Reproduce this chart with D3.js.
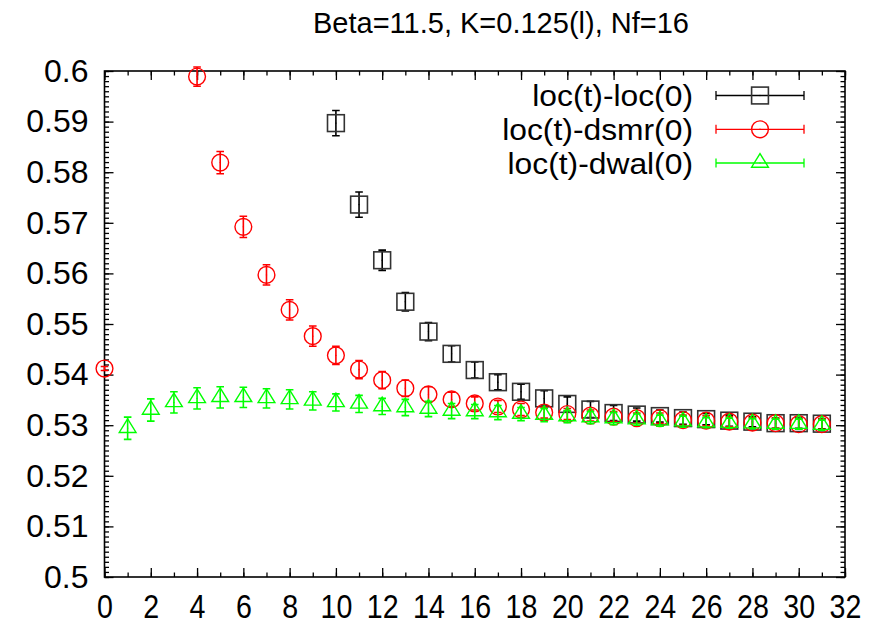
<!DOCTYPE html>
<html>
<head>
<meta charset="utf-8">
<script src="https://cdn.jsdelivr.net/npm/d3@7"></script>
<style>
  body { margin: 0; background: #fff; }
  text { font-family: "Liberation Sans", Arial, Helvetica, sans-serif; }
</style>
</head>
<body>
<script>
"use strict";

// ---- data ----
const title = "Beta=11.5, K=0.125(l), Nf=16";

const xTicks = [0, 2, 4, 6, 8, 10, 12, 14, 16, 18, 20, 22, 24, 26, 28, 30, 32];
const yTicks = [0.5, 0.51, 0.52, 0.53, 0.54, 0.55, 0.56, 0.57, 0.58, 0.59, 0.6];
const yTickLabels = ["0.5", "0.51", "0.52", "0.53", "0.54", "0.55", "0.56", "0.57", "0.58", "0.59", "0.6"];

const seriesNames = ["loc(t)-loc(0)", "loc(t)-dsmr(0)", "loc(t)-dwal(0)"];

const locT = [10, 11, 12, 13, 14, 15, 16, 17, 18, 19, 20, 21, 22, 23, 24, 25, 26, 27, 28, 29, 30, 31];
const locVal = [0.5897, 0.5736, 0.5626, 0.5544, 0.5485, 0.5441, 0.5409, 0.5385, 0.5366, 0.5353, 0.5342,
                0.5331, 0.5324, 0.5321, 0.5318, 0.5314, 0.5312, 0.5309, 0.5307, 0.5304, 0.5304, 0.5303];
const locErr = [0.0025, 0.0025, 0.0020, 0.0018, 0.0018, 0.0016, 0.0016, 0.0015, 0.0015, 0.0015, 0.0014,
                0.0016, 0.0015, 0.0013, 0.0012, 0.0012, 0.0011, 0.0011, 0.0010, 0.0010, 0.0010, 0.0010];

const dsmrT = [0, 4, 5, 6, 7, 8, 9, 10, 11, 12, 13, 14, 15, 16, 17, 18, 19, 20, 21, 22, 23, 24, 25, 26, 27, 28, 29, 30, 31];
const dsmrVal = [0.5412, 0.5989, 0.5819, 0.5692, 0.5597, 0.5528, 0.5476, 0.5438, 0.5410, 0.5389, 0.5373,
                 0.5361, 0.5351, 0.5343, 0.5337, 0.5331, 0.5325, 0.5322, 0.5319, 0.5317, 0.5314, 0.5314,
                 0.5310, 0.5309, 0.5307, 0.5305, 0.5304, 0.5302, 0.5302];
const dsmrErr = [0.0004, 0.0019, 0.0022, 0.0021, 0.0020, 0.0020, 0.0020, 0.0018, 0.0018, 0.0017, 0.0016,
                 0.0015, 0.0014, 0.0013, 0.0012, 0.0012, 0.0011, 0.0011, 0.0011, 0.0010, 0.0010, 0.0010,
                 0.0010, 0.0010, 0.0010, 0.0010, 0.0010, 0.0010, 0.0010];

const dwalT = [1, 2, 3, 4, 5, 6, 7, 8, 9, 10, 11, 12, 13, 14, 15, 16, 17, 18, 19, 20, 21, 22, 23, 24, 25, 26, 27, 28, 29, 30, 31];
const dwalVal = [0.5294, 0.5330, 0.5345, 0.5353, 0.5355, 0.5355, 0.5353, 0.5351, 0.5348, 0.5345, 0.5342,
                 0.5337, 0.5335, 0.5332, 0.5328, 0.5327, 0.5325, 0.5322, 0.5320, 0.5317, 0.5315, 0.5313,
                 0.5311, 0.5309, 0.5307, 0.5305, 0.5304, 0.5303, 0.5302, 0.5302, 0.5300];
const dwalErr = [0.0022, 0.0022, 0.0021, 0.0021, 0.0021, 0.0020, 0.0019, 0.0019, 0.0018, 0.0017, 0.0017,
                 0.0016, 0.0016, 0.0015, 0.0015, 0.0014, 0.0014, 0.0013, 0.0013, 0.0012, 0.0012, 0.0012,
                 0.0011, 0.0011, 0.0011, 0.0010, 0.0010, 0.0010, 0.0010, 0.0010, 0.0010];

// ---- layout ----
let margin = {top: 71, right: 26, bottom: 48, left: 104.5},
    width = 871 - margin.left - margin.right,
    height = 625 - margin.top - margin.bottom;

let x = d3.scaleLinear().domain([0, 32]).range([0, width]);
let y = d3.scaleLinear().domain([0.5, 0.6]).range([height, 0]);

let svg = d3.select("body").append("svg")
    .attr("width", 871)
    .attr("height", 625);

svg.append("text")
    .attr("x", 501)
    .attr("y", 33)
    .attr("text-anchor", "middle")
    .style("font-size", "29px")
    .text(title);

let g = svg.append("g")
    .attr("transform", "translate(" + margin.left + "," + margin.top + ")");

// ticks (gnuplot style: inward, mirrored on all four sides)
const majorLen = 9, minorLen = 4.5;
let yMinor = d3.range(500, 601, 1).map(d => d / 1000);
let xMinor = d3.range(0, 33, 1);

function styleAxis(sel) {
  sel.select(".domain").remove();
  sel.selectAll("line").attr("stroke", "#000").attr("stroke-width", 1.3);
  sel.selectAll("text").style("font-size", "32px").attr("fill", "#000")
     .style("font-family", "'Liberation Sans', Arial, Helvetica, sans-serif");
}

g.append("g").call(d3.axisLeft(y).tickValues(yMinor).tickSize(-minorLen).tickFormat("")).call(styleAxis);
g.append("g").attr("transform", "translate(" + width + ",0)")
  .call(d3.axisRight(y).tickValues(yMinor).tickSize(-minorLen).tickFormat("")).call(styleAxis);
g.append("g").attr("transform", "translate(0," + height + ")")
  .call(d3.axisBottom(x).tickValues(xMinor).tickSize(-minorLen).tickFormat("")).call(styleAxis);
g.append("g")
  .call(d3.axisTop(x).tickValues(xMinor).tickSize(-minorLen).tickFormat("")).call(styleAxis);

g.append("g")
  .call(d3.axisLeft(y).tickValues(yTicks).tickSize(-majorLen).tickPadding(16)
        .tickFormat((d, i) => yTickLabels[i]))
  .call(styleAxis);
g.append("g").attr("transform", "translate(" + width + ",0)")
  .call(d3.axisRight(y).tickValues(yTicks).tickSize(-majorLen).tickFormat("")).call(styleAxis);
g.append("g").attr("transform", "translate(0," + height + ")")
  .call(d3.axisBottom(x).tickValues(xTicks).tickSize(-majorLen).tickPadding(17.5))
  .call(styleAxis)
  .call(a => a.selectAll("text").style("font-size", "32.5px").attr("transform", "scale(0.88,1)"));
g.append("g")
  .call(d3.axisTop(x).tickValues(xTicks).tickSize(-majorLen).tickFormat("")).call(styleAxis);

g.append("rect")
    .attr("width", width)
    .attr("height", height)
    .attr("fill", "none")
    .attr("stroke", "#000")
    .attr("stroke-width", 1.6);

// ---- point symbols (gnuplot sizes) ----
const hpt = 8.4, cap = 3.8;

function drawSymbol(sel, kind, color) {
  if (kind === "box") {
    sel.append("rect")
      .attr("x", -hpt).attr("y", -hpt)
      .attr("width", 2 * hpt).attr("height", 2 * hpt)
      .attr("fill", "none").attr("stroke", "#333").attr("stroke-width", 1.6);
  } else if (kind === "circle") {
    sel.append("circle").attr("r", hpt)
      .attr("fill", "none").attr("stroke", color).attr("stroke-width", 1.4);
  } else {
    sel.append("path")
      .attr("d", "M0," + (-1.12 * hpt) + "L" + hpt + "," + (0.5 * hpt) + "L" + (-hpt) + "," + (0.5 * hpt) + "Z")
      .attr("fill", "none").attr("stroke", color).attr("stroke-width", 1.4);
  }
  sel.append("circle").attr("r", 0.7).attr("fill", color);
}

function drawSeries(ts, vals, errs, kind, color) {
  let data = ts.map((t, i) => ({t: t, v: vals[i], e: errs[i]}));
  let grp = g.append("g");
  let pts = grp.selectAll("g.pt").data(data).enter().append("g")
      .attr("class", "pt");

  // error bar with caps
  pts.append("path")
      .attr("d", d => {
        let px = x(d.t), y0 = y(d.v - d.e), y1 = y(d.v + d.e);
        return "M" + px + "," + y0 + "V" + y1 +
               "M" + (px - cap) + "," + y0 + "H" + (px + cap) +
               "M" + (px - cap) + "," + y1 + "H" + (px + cap);
      })
      .attr("fill", "none")
      .attr("stroke", color)
      .attr("stroke-width", 1.6);

  pts.append("g")
      .attr("transform", d => "translate(" + x(d.t) + "," + y(d.v) + ")")
      .each(function() { drawSymbol(d3.select(this), kind, color); });
}

drawSeries(locT, locVal, locErr, "box", "#000");
drawSeries(dsmrT, dsmrVal, dsmrErr, "circle", "#ff0000");
drawSeries(dwalT, dwalVal, dwalErr, "triangle", "#00ff00");

// ---- legend ----
const legendKinds = ["box", "circle", "triangle"];
const legendColors = ["#000", "#ff0000", "#00ff00"];
const legendRows = [95.5, 129.3, 163];

seriesNames.forEach((name, i) => {
  let ly = legendRows[i];
  svg.append("text")
    .attr("x", 693)
    .attr("y", ly + 11)
    .attr("text-anchor", "end")
    .style("font-size", "30px")
    .attr("transform", "translate(693," + (ly + 11) + ") scale(1.06,1) translate(-693," + (-(ly + 11)) + ")")
    .text(name);
  svg.append("path")
    .attr("d", "M716," + ly + "H804M716," + (ly - 4.5) + "V" + (ly + 4.5) + "M804," + (ly - 4.5) + "V" + (ly + 4.5))
    .attr("fill", "none")
    .attr("stroke", legendColors[i])
    .attr("stroke-width", 1.3);
  let s = svg.append("g").attr("transform", "translate(760," + ly + ")");
  drawSymbol(s, legendKinds[i], legendColors[i]);
});
</script>
</body>
</html>
